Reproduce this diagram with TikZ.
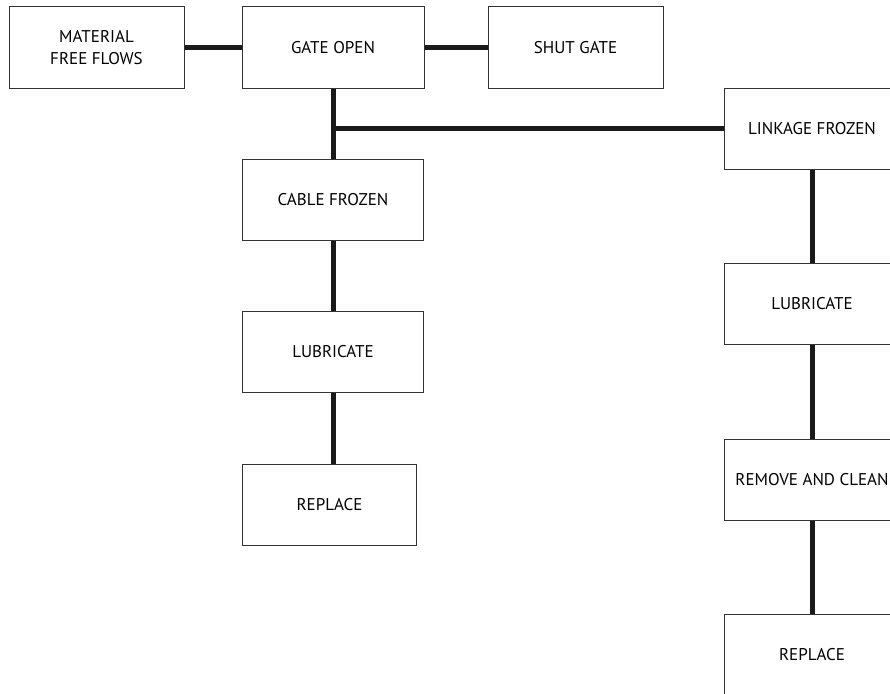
\documentclass[tikz,border=0pt]{standalone}
\usepackage{fontspec}
\setmainfont{PT Sans}
\usepackage{xcolor}
\usetikzlibrary{positioning}
\definecolor{boxline}{RGB}{51, 51, 51}
\definecolor{linkline}{RGB}{26, 26, 26}

\begin{document}
\begin{tikzpicture}[
    x=1pt, y=-1pt,
    box/.style={draw=boxline, line width=1pt, fill=white, minimum width=182pt,
                minimum height=81pt, align=center, inner sep=0pt,
                font=\fontsize{17}{22}\selectfont},
    link/.style={line width=5pt, linkline}
]
    \fill[white] (0,0) rectangle (890,693);
    \useasboundingbox (0,0) rectangle (890,693);

    \node[box] (gate) at (333,47.5) {GATE OPEN};
    \node[box, minimum width=175pt, left=57pt of gate] (material) {MATERIAL\\FREE FLOWS};
    \node[box, minimum width=175pt, right=63pt of gate] (shut) {SHUT GATE};
    \node[box, minimum width=181pt, below=70pt of gate] (cable) {CABLE FROZEN};
    \node[box, minimum width=181pt, below=70pt of cable] (cablelub) {LUBRICATE};
    \node[box, minimum width=174pt, below=71pt of cablelub, xshift=-3.5pt] (cablerep) {REPLACE};

    \node[box, minimum width=176pt] (linkage) at (812,128.5) {LINKAGE FROZEN};
    \node[box, minimum width=176pt, below=93pt of linkage] (linklub) {LUBRICATE};
    \node[box, minimum width=176pt, below=94pt of linklub] (clean) {REMOVE AND CLEAN};
    \node[box, minimum width=176pt, below=93pt of clean] (linkrep) {REPLACE};

    \draw[link] (material) -- (gate);
    \draw[link] (gate) -- (shut);
    \draw[link] (gate.south) -- (cable.north);
    \draw[link] (gate.south |- linkage.west) -- (linkage.west);
    \draw[link] (cable) -- (cablelub);
    \draw[link] (cablelub.south) -- (cablelub.south |- cablerep.north);
    \draw[link] (linkage) -- (linklub);
    \draw[link] (linklub) -- (clean);
    \draw[link] (clean) -- (linkrep);
\end{tikzpicture}
\end{document}
